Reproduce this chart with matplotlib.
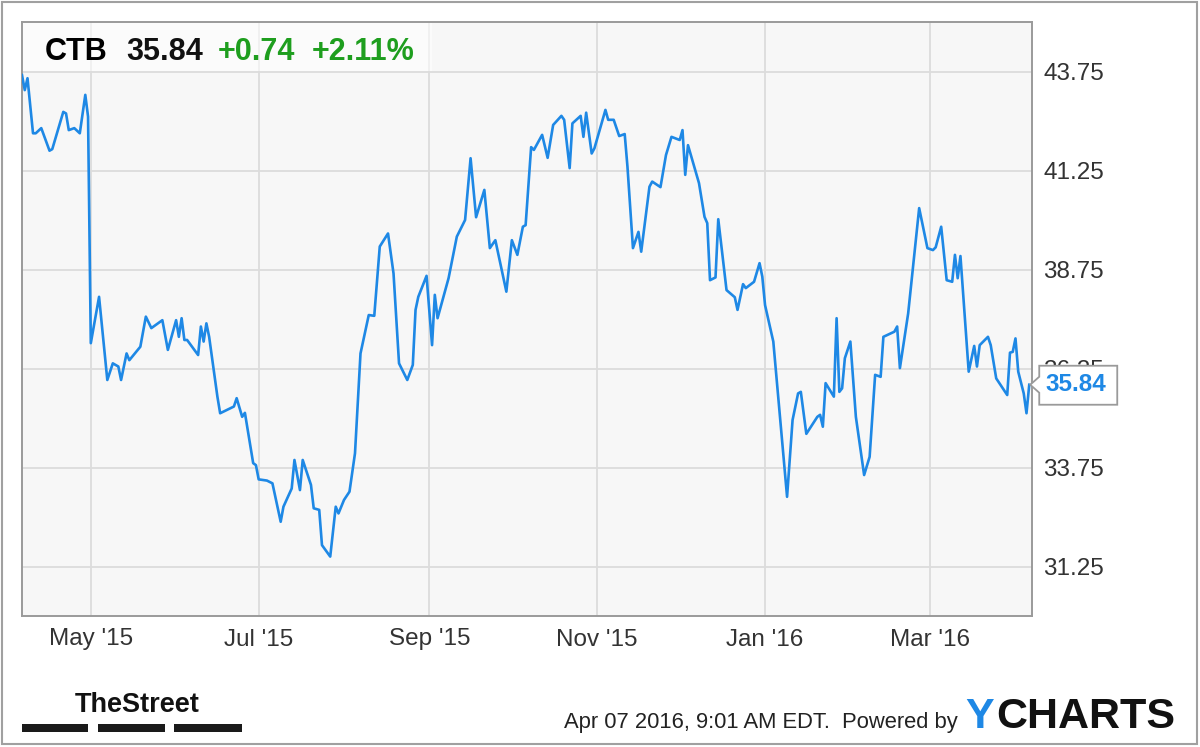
import matplotlib
matplotlib.use("Agg")
import matplotlib.pyplot as plt
import matplotlib.dates as mdates
import matplotlib.patches as patches
from matplotlib.transforms import IdentityTransform
import pandas as pd

# CTB daily close (days counted from the first trading day)
start_date = "2015-04-06"
day_offset = [
    0, 1, 2, 4, 5, 7, 10, 11, 15, 16, 17, 19, 21, 23, 24, 25, 28, 31, 33, 35,
    36, 38, 39, 43, 45, 47, 51, 53, 56, 57, 58, 59, 60, 64, 65, 66, 67, 68, 71, 72,
    77, 78, 80, 81, 84, 85, 86, 89, 91, 94, 95, 98, 99, 101, 102, 105, 106, 108, 109, 112,
    114, 115, 117, 119, 121, 123, 126, 128, 130, 133, 135, 137, 140, 142, 143, 144, 147, 149, 150, 151,
    155, 158, 161, 163, 165, 168, 170, 172, 176, 178, 180, 182, 183, 185, 186, 189, 191, 193, 196, 197,
    199, 200, 203, 204, 205, 207, 208, 212, 213, 215, 217, 219, 220, 222, 224, 225, 228, 229, 232, 234,
    236, 239, 240, 241, 242, 246, 248, 249, 250, 252, 253, 256, 259, 260, 262, 263, 266, 268, 269, 270,
    273, 278, 280, 282, 283, 285, 289, 290, 291, 292, 295, 296, 297, 298, 299, 301, 303, 306, 308, 310,
    312, 313, 317, 318, 319, 322, 326, 329, 331, 332, 334, 336, 338, 339, 340, 341, 344, 346, 347, 348,
    351, 352, 354, 358, 359, 360, 361, 362, 364, 365, 366,
]
close = [
    43.66, 43.28, 43.58, 42.19, 42.19, 42.32, 41.75, 41.79, 42.73, 42.69, 42.27, 42.32, 42.19, 43.16, 42.61, 36.89, 38.06, 35.96, 36.38, 36.30,
    35.96, 36.63, 36.46, 36.80, 37.56, 37.27, 37.47, 36.72, 37.47, 37.05, 37.52, 36.97, 36.97, 36.59, 37.31, 36.93, 37.39, 37.05, 35.54, 35.12,
    35.29, 35.50, 35.03, 35.13, 33.86, 33.81, 33.45, 33.42, 33.35, 32.38, 32.76, 33.22, 33.94, 33.18, 33.94, 33.31, 32.72, 32.68, 31.79, 31.50,
    32.76, 32.59, 32.93, 33.14, 34.11, 36.63, 37.60, 37.58, 39.33, 39.66, 38.65, 36.38, 35.96, 36.34, 37.73, 38.06, 38.59, 36.84, 38.11, 37.52,
    38.53, 39.58, 40.00, 41.56, 40.07, 40.76, 39.29, 39.49, 38.19, 39.49, 39.12, 39.83, 39.87, 41.84, 41.77, 42.15, 41.57, 42.40, 42.63, 42.53,
    41.31, 42.44, 42.63, 42.10, 42.71, 41.68, 41.81, 42.78, 42.53, 42.53, 42.12, 42.17, 41.35, 39.29, 39.70, 39.20, 40.84, 40.97, 40.83, 41.64,
    42.10, 42.02, 42.27, 41.14, 41.89, 40.93, 40.08, 39.92, 38.48, 38.55, 40.02, 38.23, 38.05, 37.73, 38.38, 38.28, 38.44, 38.91, 38.57, 37.85,
    36.93, 33.01, 34.95, 35.62, 35.66, 34.60, 35.03, 35.08, 34.78, 35.88, 35.54, 37.52, 35.66, 35.75, 36.51, 36.93, 35.03, 33.56, 34.02, 36.09,
    36.04, 37.05, 37.18, 37.31, 36.26, 37.64, 40.30, 39.29, 39.24, 39.31, 39.83, 38.48, 38.44, 39.12, 38.53, 39.09, 36.17, 36.82, 36.30, 36.84,
    37.05, 36.84, 36.00, 35.58, 36.65, 36.67, 37.01, 36.17, 35.62, 35.12, 35.84,
]
y_ticks = [31.25, 33.75, 36.25, 38.75, 41.25, 43.75]
ticker_name = "CTB"
last_price = "35.84"
change = "+0.74"
change_pct = "+2.11%"
stamp = "Apr 07 2016, 9:01 AM EDT.  Powered by"

W, H = 1200, 747
BLUE = "#1e88e5"
GREEN = "#1e9e1e"

plt.rcParams["font.family"] = ["Liberation Sans", "DejaVu Sans"]

dates = pd.Timestamp(start_date) + pd.to_timedelta(day_offset, unit="D")


def fx(x):
    return x / W


def fy(y):
    return 1 - y / H


fig = plt.figure(figsize=(12, 7.47), dpi=100, facecolor="white")
ax = fig.add_axes([fx(22), fy(616), fx(1032) - fx(22), fy(22) - fy(616)])
ax.set_facecolor("#f7f7f7")

ax.plot(dates, close, color=BLUE, lw=1.9, solid_joinstyle="round", zorder=3)

ax.set_xlim(pd.Timestamp(start_date), pd.Timestamp(start_date) + pd.Timedelta(days=367))
ax.set_ylim(30, 45)
ax.set_yticks(y_ticks)
ax.xaxis.set_major_locator(mdates.MonthLocator(bymonth=[1, 3, 5, 7, 9, 11]))
ax.xaxis.set_major_formatter(mdates.DateFormatter("%b '%y"))
ax.yaxis.tick_right()
ax.tick_params(axis="both", length=0, labelsize=17.5, labelcolor="#333333")
ax.tick_params(axis="x", pad=9)
ax.tick_params(axis="y", pad=8)
ax.grid(True, color="#dcdcdc", lw=1.3, zorder=0)
ax.set_axisbelow(True)
for s in ax.spines.values():
    s.set_color("#9a9a9a")
    s.set_linewidth(1.4)

# header strip with quote
fig.add_artist(patches.Rectangle((fx(23), fy(71)), fx(432) - fx(23), fy(23) - fy(71),
                                 transform=fig.transFigure, facecolor="white", alpha=0.55,
                                 edgecolor="none", zorder=2))
fig.text(fx(45), fy(60), ticker_name, fontsize=22, fontweight="bold", color="black", va="baseline")
fig.text(fx(126), fy(60), last_price, fontsize=22, fontweight="bold", color="#111111", va="baseline")
fig.text(fx(218), fy(60), change, fontsize=22, fontweight="bold", color=GREEN, va="baseline")
fig.text(fx(312), fy(60), change_pct, fontsize=22, fontweight="bold", color=GREEN, va="baseline")

# last price callout on the right axis
fig.canvas.draw()
tx, ty = ax.transData.transform((mdates.date2num(dates[-1]), close[-1]))
left, right = tx + 10, tx + 88
box = [(tx + 1, ty), (left, ty - 8), (left, ty - 20), (right, ty - 20),
       (right, ty + 19), (left, ty + 19), (left, ty + 8)]
fig.add_artist(patches.Polygon(box, closed=True, transform=IdentityTransform(),
                               facecolor="white", edgecolor="#9a9a9a", lw=1.3, zorder=5))
fig.text(left + 6, ty, last_price, transform=IdentityTransform(), fontsize=17.5,
         fontweight="bold", color=BLUE, va="center", ha="left", zorder=6)

# footer
fig.text(fx(75), fy(712), "TheStreet", fontsize=19.5, fontweight="bold",
         color="#111111", va="baseline")
for x0, x1 in [(22, 88), (98, 165), (174, 242)]:
    fig.add_artist(patches.Rectangle((fx(x0), fy(732)), fx(x1) - fx(x0), fy(724) - fy(732),
                                     transform=fig.transFigure, facecolor="#1a1a1a",
                                     edgecolor="none"))
fig.text(fx(958), fy(728), stamp, fontsize=15.8, color="#222222", ha="right", va="baseline")
fig.text(fx(965), fy(728), "Y", fontsize=31, fontweight="bold", color=BLUE, va="baseline")
fig.text(fx(996), fy(728), "CHARTS", fontsize=31, fontweight="bold", color="#111111", va="baseline")

# outer frame
fig.add_artist(patches.Rectangle((fx(2), fy(744)), fx(1197) - fx(2), fy(2) - fy(744),
                                 transform=fig.transFigure, facecolor="none",
                                 edgecolor="#a0a0a0", lw=1.5))

fig.savefig("out.png", dpi=100, facecolor="white")
